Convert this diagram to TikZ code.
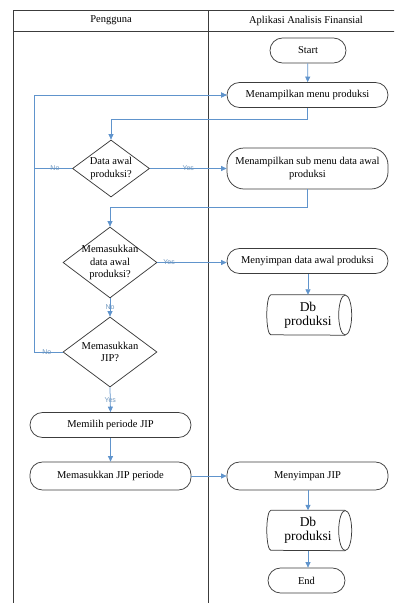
\documentclass[tikz,border=0pt]{standalone}
\usepackage{fontspec}
\setmainfont{Liberation Serif}
\newfontfamily\lblfont{Liberation Sans}
\usetikzlibrary{shapes.geometric,arrows.meta}
\definecolor{flowblue}{RGB}{96,148,204}
\definecolor{framegray}{RGB}{60,60,60}
\definecolor{lblblue}{RGB}{110,150,190}
\tikzset{
  frameline/.style={draw=framegray, line width=1pt},
  procbox/.style={draw=framegray, line width=0.75pt, rounded corners=12.5pt,
    minimum width=161pt, minimum height=25pt, inner sep=1pt,
    font=\fontsize{10.5}{12.5}\selectfont, align=center},
  termbox/.style={procbox, minimum width=77pt},
  decision/.style={draw=framegray, line width=0.75pt, diamond, inner sep=0pt},
  dectext/.style={font=\fontsize{10.5}{12.5}\selectfont, align=center, inner sep=0pt},
  dbbox/.style={minimum width=74pt, minimum height=40pt, inner sep=0pt,
    font=\fontsize{13.5}{14}\selectfont, align=center},
  dbline/.style={draw=framegray, line width=0.75pt},
  conn/.style={draw=flowblue, line width=0.75pt, -{Triangle[length=5.5pt,width=5pt]}},
  lbl/.style={font=\lblfont\fontsize{7}{8}\selectfont, text=lblblue, inner sep=0.5pt},
  header/.style={font=\fontsize{10.5}{12}\selectfont}
}
\begin{document}
\begin{tikzpicture}[x=1pt,y=-1pt]
\useasboundingbox (0,0) rectangle (394,603);
\clip (0,0) rectangle (394,603);

% swimlane frame
\draw[frameline] (13,610) -- (13,10) -- (410,10);
\draw[frameline] (13,31) -- (410,31);
\draw[frameline] (208,10) -- (208,610);
\node[header] (laneA) at (111,20.5) {Pengguna};
\node[header] (laneB) at (306,20.5) {Aplikasi Analisis Finansial};

% application lane
\node[termbox, minimum width=76pt] (start) at (308,50.5) {Start};
\node[procbox] (menu) at (307.5,95) {Menampilkan menu produksi};
\node[procbox, minimum height=41pt, rounded corners=17pt] (sub) at (307.5,168.5)
  {Menampilkan sub menu data awal\\produksi};
\node[procbox] (save1) at (307.5,261) {Menyimpan data awal produksi};
\node[dbbox] (db1) at (308,315) {Db\\produksi};
\node[procbox, minimum height=28pt] (save2) at (307.5,476) {Menyimpan JIP};
\node[dbbox] (db2) at (308,530.5) {Db\\produksi};
\node[termbox] (end) at (306.5,580.5) {End};

% stored-data outlines
\foreach \d in {db1,db2}{
  \draw[dbline] (\d.north east) -- (\d.north west)
    arc[start angle=90, end angle=270, x radius=4pt, y radius=20pt]
    -- (\d.south east);
  \draw[dbline] (\d.east) ellipse[x radius=6.5pt, y radius=20pt];
}

% user lane
\node[decision, minimum width=77pt, minimum height=57pt] (d1) at (111,168.5) {};
\node[dectext] (d1t) at (d1) {Data awal\\produksi?};
\node[decision, minimum width=94pt, minimum height=71pt] (d2) at (110,262.5) {};
\node[dectext] (d2t) at (d2) {Memasukkan\\data awal\\produksi?};
\node[decision, minimum width=94pt, minimum height=70pt] (d3) at (110,352) {};
\node[dectext] (d3t) at (d3) {Memasukkan\\JIP?};
\node[procbox] (pick) at (110.5,425) {Memilih periode JIP};
\node[procbox, minimum height=28pt] (enter) at (110.5,476) {Memasukkan JIP periode};

\coordinate (loopx) at (34,0);
\coordinate (bend1) at (0,119);
\coordinate (bend2) at (0,207);

% connectors
\draw[conn] (start) -- (menu);
\draw[conn] (menu.south) |- (menu.south |- bend1) -| (d1.north);
\draw[conn] (d1.east) -- node[lbl, pos=0.5]{Yes} (sub.west);
\draw[conn] (d1.west) -- node[lbl, pos=0.45]{No} (d1.west -| loopx) |- (menu.west);
\draw[conn] (sub.south) |- (sub.south |- bend2) -| (d2.north);
\draw[conn] (d2.east) -- node[lbl, pos=0.17]{Yes} (d2.east -| save1.west);
\draw[conn] (save1.south -| db1.north) -- (db1.north);
\draw[conn] (d2.south) -- node[lbl, pos=0.5]{No} (d3.north);
\draw[conn] (d3.west) -- node[lbl, pos=0.55]{No} (d3.west -| loopx) |- (menu.west);
\draw[conn] (d3.south) -- node[lbl, pos=0.5]{Yes} (pick.north);
\draw[conn] (pick) -- (enter);
\draw[conn] (enter) -- (save2);
\draw[conn] (save2.south -| db2.north) -- (db2.north);
\draw[conn] (db2.south) -- (db2.south |- end.north);
\end{tikzpicture}
\end{document}
